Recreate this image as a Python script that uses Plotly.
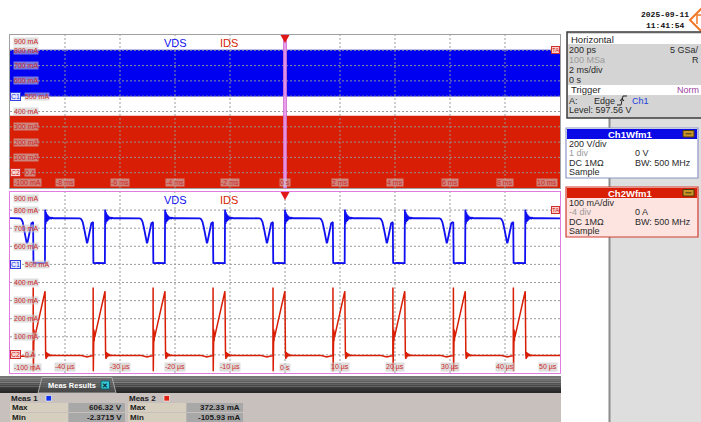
import plotly.graph_objects as go

W, H = 701, 422

# ---- acquisition settings -------------------------------------------------
CH1_V_PER_DIV = 200      # VDS, V/div
CH1_POS_DIV = 1          # 0 V sits 1 div above centre
CH2_MA_PER_DIV = 100     # IDS, mA/div
CH2_POS_DIV = -4         # 0 A sits 4 div below centre
TRIG_LEVEL_V = 597.56

TOP_RANGE_MS = [-10, 10]     # 2 ms/div overview
ZOOM_RANGE_US = [-50, 50]    # zoom window, 10 us/div

# ---- measurement results ---------------------------------------------------
VDS_MAX, VDS_MIN = 606.32, -2.3715     # V
IDS_MAX, IDS_MIN = 372.33, -105.93     # mA

# ---- graticule labels ------------------------------------------------------
IDS_GRID_MA = [-100, 0, 100, 200, 300, 400, 500, 600, 700, 800, 900]
IDS_GRID_TEXT = ["-100 mA", "0 A", "100 mA", "200 mA", "300 mA", "400 mA",
                 "500 mA", "600 mA", "700 mA", "800 mA", "900 mA"]
TOP_T_TICKS = [-8, -6, -4, -2, 0, 2, 4, 6, 8, 10]
TOP_T_TEXT = ["-8 ms", "-6 ms", "-4 ms", "-2 ms", "0 s", "2 ms", "4 ms",
              "6 ms", "8 ms", "10 ms"]
ZOOM_T_TICKS = [-40, -30, -20, -10, 0, 10, 20, 30, 40, 50]
ZOOM_T_TEXT = ["-40 µs", "-30 µs", "-20 µs", "-10 µs", "0 s", "10 µs",
               "20 µs", "30 µs", "40 µs", "50 µs"]

# ---- switching cycles in the zoom window ------------------------------------
# MOSFET turn-on instants (us)
TURN_ON_US = [-56.7, -45.8, -34.9, -24.0, -13.1, -2.2, 8.7, 19.6, 30.6, 41.5]

# one cycle of VDS, time after turn-on (us) / volts
CYCLE_T_VDS = [0.00, 0.06, 0.30, 0.90, 1.50, 2.15, 2.20, 2.28, 2.36, 2.45,
               2.54, 2.63, 2.73, 2.83, 2.93, 3.05, 3.18, 3.32, 3.48, 3.70,
               5.00, 7.00, 8.50, 8.75, 9.00, 9.25, 9.50, 9.70, 9.80, 9.90,
               10.10, 10.35, 10.60, 10.85]
CYCLE_VDS = [462, 18, 13, 16, 14, 15, VDS_MAX, 445, 575, 468,
             552, 482, 538, 494, 527, 502, 520, 507, 515, 510,
             512, 511, 509, 500, 470, 405, 310, 245, 234, 248,
             320, 410, 455, 465]

# one cycle of IDS, time after turn-on (us) / mA
CYCLE_T_IDS = [0.00, 0.02, 0.05, 0.08, 0.12, 0.16, 0.21, 0.26, 0.32, 0.40,
               2.18, 2.28, 2.36, 2.45, 2.55, 2.66, 2.78, 2.92, 3.10, 3.30,
               4.00, 8.80, 9.30, 9.80, 10.30, 10.70, 10.88]
CYCLE_IDS = [-4, IDS_MAX, -90, 170, 50, 140, 75, 128, 100, 112,
             352, 2, -22, 16, -14, 10, -8, 5, -5, -2,
             -4, -4, -8, -12, -8, -4, -4]

VDS_COLOR = "#1010F0"
IDS_COLOR = "#D81E05"
FONT = "Liberation Sans, Arial, sans-serif"


def px(x):
    return x / W


def py(y):
    return 1 - y / H


def tile(starts, dt, dv):
    xs, ys = [], []
    for s in starts:
        xs += [s + t for t in dt]
        ys += list(dv)
    return xs, ys


vds_range = [(-5 - CH1_POS_DIV) * CH1_V_PER_DIV, (5 - CH1_POS_DIV) * CH1_V_PER_DIV]
ids_range = [(-5 - CH2_POS_DIV) * CH2_MA_PER_DIV, (5 - CH2_POS_DIV) * CH2_MA_PER_DIV]
# graticule level (mA scale) where the Ch1 ground reference sits
ch1_zero_on_grid = ids_range[0] + (0 - vds_range[0]) / (vds_range[1] - vds_range[0]) * (
    ids_range[1] - ids_range[0])

fig = go.Figure()

# ---- overview: persistence envelopes --------------------------------------
t0, t1 = TOP_RANGE_MS
fig.add_trace(go.Scatter(x=[t0, t1, t1, t0], y=[IDS_MIN, IDS_MIN, IDS_MAX, IDS_MAX],
                         fill="toself", fillcolor=IDS_COLOR, mode="lines",
                         line=dict(width=0, color=IDS_COLOR), xaxis="x", yaxis="y",
                         hoverinfo="skip"))
fig.add_trace(go.Scatter(x=[t0, t1, t1, t0], y=[VDS_MIN, VDS_MIN, VDS_MAX, VDS_MAX],
                         fill="toself", fillcolor="#0000F0", mode="lines",
                         line=dict(width=0, color="#0000F0"), xaxis="x", yaxis="y2",
                         hoverinfo="skip"))

# ---- zoom window: waveforms ------------------------------------------------
vx, vy = tile(TURN_ON_US, CYCLE_T_VDS, CYCLE_VDS)
ix, iy = tile(TURN_ON_US, CYCLE_T_IDS, CYCLE_IDS)
fig.add_trace(go.Scatter(x=ix, y=iy, mode="lines", line=dict(color=IDS_COLOR, width=1.5),
                         xaxis="x2", yaxis="y3", hoverinfo="skip"))
fig.add_trace(go.Scatter(x=vx, y=vy, mode="lines", line=dict(color=VDS_COLOR, width=1.8),
                         xaxis="x2", yaxis="y4", hoverinfo="skip"))

shapes = []
ann = []

GRID = dict(color="rgba(150,150,150,0.95)", width=1, dash="2px,2px")


def grid(xref, yref, xr, yr, layer):
    for i in range(1, 10):
        xv = xr[0] + i * (xr[1] - xr[0]) / 10
        shapes.append(dict(type="line", xref=xref, yref=yref + " domain", x0=xv, x1=xv,
                           y0=0, y1=1, line=GRID, layer=layer))
        yv = yr[0] + i * (yr[1] - yr[0]) / 10
        shapes.append(dict(type="line", xref=xref + " domain", yref=yref, x0=0, x1=1,
                           y0=yv, y1=yv, line=GRID, layer=layer))


grid("x", "y", TOP_RANGE_MS, ids_range, "above")
grid("x2", "y3", ZOOM_RANGE_US, ids_range, "below")

# zoom window marker in the overview
zh = (ZOOM_RANGE_US[1] - ZOOM_RANGE_US[0]) / 2 / 1000
shapes.append(dict(type="rect", xref="x", yref="y domain", x0=-zh, x1=zh, y0=0, y1=1,
                   fillcolor="rgba(238,160,238,0.92)", line=dict(color="#D070D0", width=1),
                   layer="above"))

# trigger position markers
for ytop in (35, 192):
    shapes.append(dict(type="path", xref="x" if ytop == 35 else "x2", yref="paper",
                       xsizemode="pixel", ysizemode="pixel", xanchor=0, yanchor=py(ytop),
                       path="M-4.5,0 L4.5,0 L0,-8 Z", fillcolor="#E01818",
                       line=dict(width=0), layer="above"))

LBL = dict(color="#D02828", size=7, family=FONT)
LBL_BG = "rgba(200,200,200,0.6)"


def axis_labels(xref, yref, vref, ticks, ticktext):
    for v, s in zip(IDS_GRID_MA, IDS_GRID_TEXT):
        ya, ys = "middle", 0
        if v == IDS_GRID_MA[-1]:
            ya, ys = "top", -2
        elif v == IDS_GRID_MA[0]:
            ya, ys = "bottom", 1
        # labels sharing a row with a channel tag start right after the tag
        xs = 14 if v in (0, ch1_zero_on_grid) else 3
        ann.append(dict(xref=xref + " domain", x=0, xanchor="left", xshift=xs,
                        yref=yref, y=v, yanchor=ya, yshift=ys, text=s, showarrow=False,
                        font=LBL, bgcolor=LBL_BG, borderpad=0))
    for v, s in zip(ticks, ticktext):
        last = v == ticks[-1]
        ann.append(dict(xref=xref, x=v, xanchor="right" if last else "center",
                        xshift=-2 if last else 0, yref=yref + " domain", y=0,
                        yanchor="bottom", yshift=1, text=s, showarrow=False,
                        font=LBL, bgcolor=LBL_BG, borderpad=0))
    # channel reference tags
    ann.append(dict(xref=xref + " domain", x=0, xanchor="left", xshift=0, yref=vref, y=0,
                    text="C1", showarrow=False, font=dict(color="#2030E0", size=7, family=FONT),
                    bgcolor="#E6E8FF", bordercolor="#3040E0", borderwidth=1, borderpad=0))
    ann.append(dict(xref=xref + " domain", x=0, xanchor="left", xshift=0, yref=yref, y=0,
                    text="C2", showarrow=False, font=dict(color="#D02020", size=7, family=FONT),
                    bgcolor="#FBD8D4", bordercolor="#D03030", borderwidth=1, borderpad=0))
    ann.append(dict(xref=xref + " domain", x=1, xanchor="right", yref=vref, y=TRIG_LEVEL_V,
                    text="TA", showarrow=False, font=dict(color="#D02020", size=6, family=FONT),
                    bgcolor="#FBD0CC", bordercolor="#D03030", borderwidth=1, borderpad=0))


axis_labels("x", "y", "y2", TOP_T_TICKS, TOP_T_TEXT)
axis_labels("x2", "y3", "y4", ZOOM_T_TICKS, ZOOM_T_TEXT)


def txt(x, y, s, size=10, color="#202020", anchor="left", bold=False, family=FONT):
    ann.append(dict(xref="paper", yref="paper", x=px(x), y=py(y), xanchor=anchor,
                    yanchor="middle", text=f"<b>{s}</b>" if bold else s, showarrow=False,
                    borderpad=0, font=dict(size=size, color=color, family=family)))


def rect(x0, y0, x1, y1, fill, line=None, lw=1):
    shapes.append(dict(type="rect", xref="paper", yref="paper", x0=px(x0), x1=px(x1),
                       y0=py(y1), y1=py(y0), fillcolor=fill,
                       line=dict(color=line or fill, width=lw if line else 0), layer="above"))


def ppath(points, fill=None, line="#000", lw=1, close=True):
    p = "M" + " L".join(f"{px(a):.5f},{py(b):.5f}" for a, b in points) + (" Z" if close else "")
    shapes.append(dict(type="path", xref="paper", yref="paper", path=p,
                       fillcolor=fill if fill else "rgba(0,0,0,0)",
                       line=dict(color=line, width=lw), layer="above"))


# channel names
for yy in (43, 200):
    txt(175, yy, "VDS", 11, VDS_COLOR, "center")
    txt(229, yy, "IDS", 11, IDS_COLOR, "center")

# ---- right-hand side panel ------------------------------------------------
rect(609, 118, 702, 423, "#DEDEDE")
shapes.append(dict(type="line", xref="paper", yref="paper", x0=px(609.5), x1=px(609.5),
                   y0=0, y1=py(118), line=dict(color="#8C8C8C", width=2), layer="above"))

txt(665, 15, "2025-09-11", 8, "#101010", "center", True, "Liberation Mono, monospace")
txt(665, 25, "11:41:54", 8, "#101010", "center", True, "Liberation Mono, monospace")
ppath([(690, 20), (701, 9), (712, 20), (701, 31)], fill="white", line="#F07828", lw=2)
ppath([(697, 24), (697, 15), (701, 15)], line="#F07828", lw=1.5, close=False)

PANEL_FS = 9

# horizontal / trigger box
rect(567, 32, 705, 118, "#D4D4D4", "#3C3C3C", 1.5)
rect(568, 34, 705, 44, "#FFFFFF")
rect(568, 85, 705, 95, "#FFFFFF")
txt(570, 39, "Horizontal", PANEL_FS + 0.5, "#1E1E1E")
txt(568, 50, "200 ps", PANEL_FS, "#2A2A2A")
txt(700, 50, "5 GSa/", PANEL_FS, "#2A2A2A", "right")
txt(568, 60, "100 MSa", PANEL_FS, "#9A9A9A")
txt(700, 60, "R", PANEL_FS, "#2A2A2A", "right")
txt(568, 70, "2 ms/div", PANEL_FS, "#2A2A2A")
txt(568, 80, "0 s", PANEL_FS, "#2A2A2A")
txt(570, 90, "Trigger", PANEL_FS + 0.5, "#1E1E1E")
txt(700, 90, "Norm", PANEL_FS, "#A040A0", "right")
txt(568, 101, "A:", PANEL_FS, "#2A2A2A")
txt(593, 101, "Edge", PANEL_FS, "#2A2A2A")
ppath([(617, 105), (621, 105), (623, 96), (627, 96)], line="#202020", lw=1, close=False)
ppath([(620, 101), (622, 98.5), (624, 101)], line="#202020", lw=1, close=False)
txt(631, 101, "Ch1", PANEL_FS, "#2040E0")
txt(568, 110, f"Level: {TRIG_LEVEL_V} V", PANEL_FS, "#2A2A2A")

# channel boxes
for y0, head, body, border, title, rows in (
    (128, "#0A0AE6", "#FFFFFF", "#8C96C8", "Ch1Wfm1",
     [("200 V/div", None), ("1 div", "0 V"), ("DC 1MΩ", "BW: 500 MHz"), ("Sample", None)]),
    (187, "#D81E05", "#FDE4E0", "#D23C32", "Ch2Wfm1",
     [("100 mA/div", None), ("-4 div", "0 A"), ("DC 1MΩ", "BW: 500 MHz"), ("Sample", None)]),
):
    rect(566, y0, 698, y0 + 50, body, border, 1.2)
    rect(567, y0 + 1, 697, y0 + 11, head)
    txt(630, y0 + 6, title, PANEL_FS + 0.5, "white", "center", True)
    rect(683, y0 + 2.5, 694, y0 + 9, "#C89628", "#4A3A10", 1)
    rect(685.5, y0 + 5.3, 691.5, y0 + 6.3, "#4A3A10")
    for k, (a, b) in enumerate(rows):
        yy = y0 + 16 + k * 9.3
        txt(568, yy, a, PANEL_FS, "#9A9A9A" if k == 1 else "#2A2A2A")
        if b:
            txt(634, yy, b, PANEL_FS, "#2A2A2A")

# ---- measurement results strip ---------------------------------------------
bar_cols = ["#767676", "#6A6A6A", "#5E5E5E", "#525252", "#464646", "#3A3A3A", "#303030", "#282828"]
for k, c in enumerate(bar_cols):
    rect(0, 376 + k * 2.125, 561, 376 + (k + 1) * 2.125 + 0.2, c)
ppath([(38, 393), (42, 377.5), (112, 377.5), (116, 393)], fill="rgba(100,100,100,0.55)",
      line="#A8A8A8", lw=1)
txt(47, 385, "Meas Results", 7.5, "white", bold=True)
rect(101, 381, 109.5, 389, "#34C8D4", "#106070", 1)
txt(105.3, 385, "✕", 7, "#0A2A30", "center", True)

rect(0, 393, 561, 423, "#C8C0BC")
MEAS_ROWS = [("Meas 1", "#1030F0", f"{VDS_MAX:.2f} V", f"{VDS_MIN:.4f} V"),
             ("Meas 2", "#E02010", f"{IDS_MAX:.2f} mA", f"{IDS_MIN:.2f} mA")]
for k, (name, col, vmax, vmin) in enumerate(MEAS_ROWS):
    ox = k * 118
    txt(10 + ox, 398.5, name, 8, "#1A1A1A", bold=True)
    rect(46 + ox, 395.5, 51.5 + ox, 401, col, "#FFFFFF", 0.6)
    for j, (lab, val) in enumerate((("Max", vmax), ("Min", vmin))):
        yt = 403 + j * 10
        rect(10 + ox, yt, 68 + ox, yt + 9, "#D6CEBE")
        rect(68.5 + ox, yt, 125 + ox, yt + 9, "#A8A8A8")
        txt(11 + ox, yt + 4.5, lab, 8, "#1A1A1A", bold=True)
        txt(123 + ox, yt + 4.5, val, 8, "#1A1A1A", "right", True)

axis_common = dict(showgrid=False, zeroline=False, showticklabels=False, ticks="",
                   showline=True, mirror=True, linewidth=1, fixedrange=True)

fig.update_layout(
    width=W, height=H, margin=dict(l=0, r=0, t=0, b=0),
    paper_bgcolor="white", plot_bgcolor="white", showlegend=False,
    font=dict(family=FONT),
    xaxis=dict(domain=[px(10), px(560)], range=TOP_RANGE_MS, anchor="y",
               linecolor="#A0A0A0", **axis_common),
    yaxis=dict(domain=[py(188), py(35)], range=ids_range, anchor="x",
               linecolor="#A0A0A0", **axis_common),
    yaxis2=dict(overlaying="y", range=vds_range, visible=False, anchor="x"),
    xaxis2=dict(domain=[px(10), px(560)], range=ZOOM_RANGE_US, anchor="y3",
                linecolor="#E07CE0", **axis_common),
    yaxis3=dict(domain=[py(373), py(192)], range=ids_range, anchor="x2",
                linecolor="#E07CE0", **axis_common),
    yaxis4=dict(overlaying="y3", range=vds_range, visible=False, anchor="x2"),
    shapes=shapes,
    annotations=ann,
)

fig.write_html("out.html")
